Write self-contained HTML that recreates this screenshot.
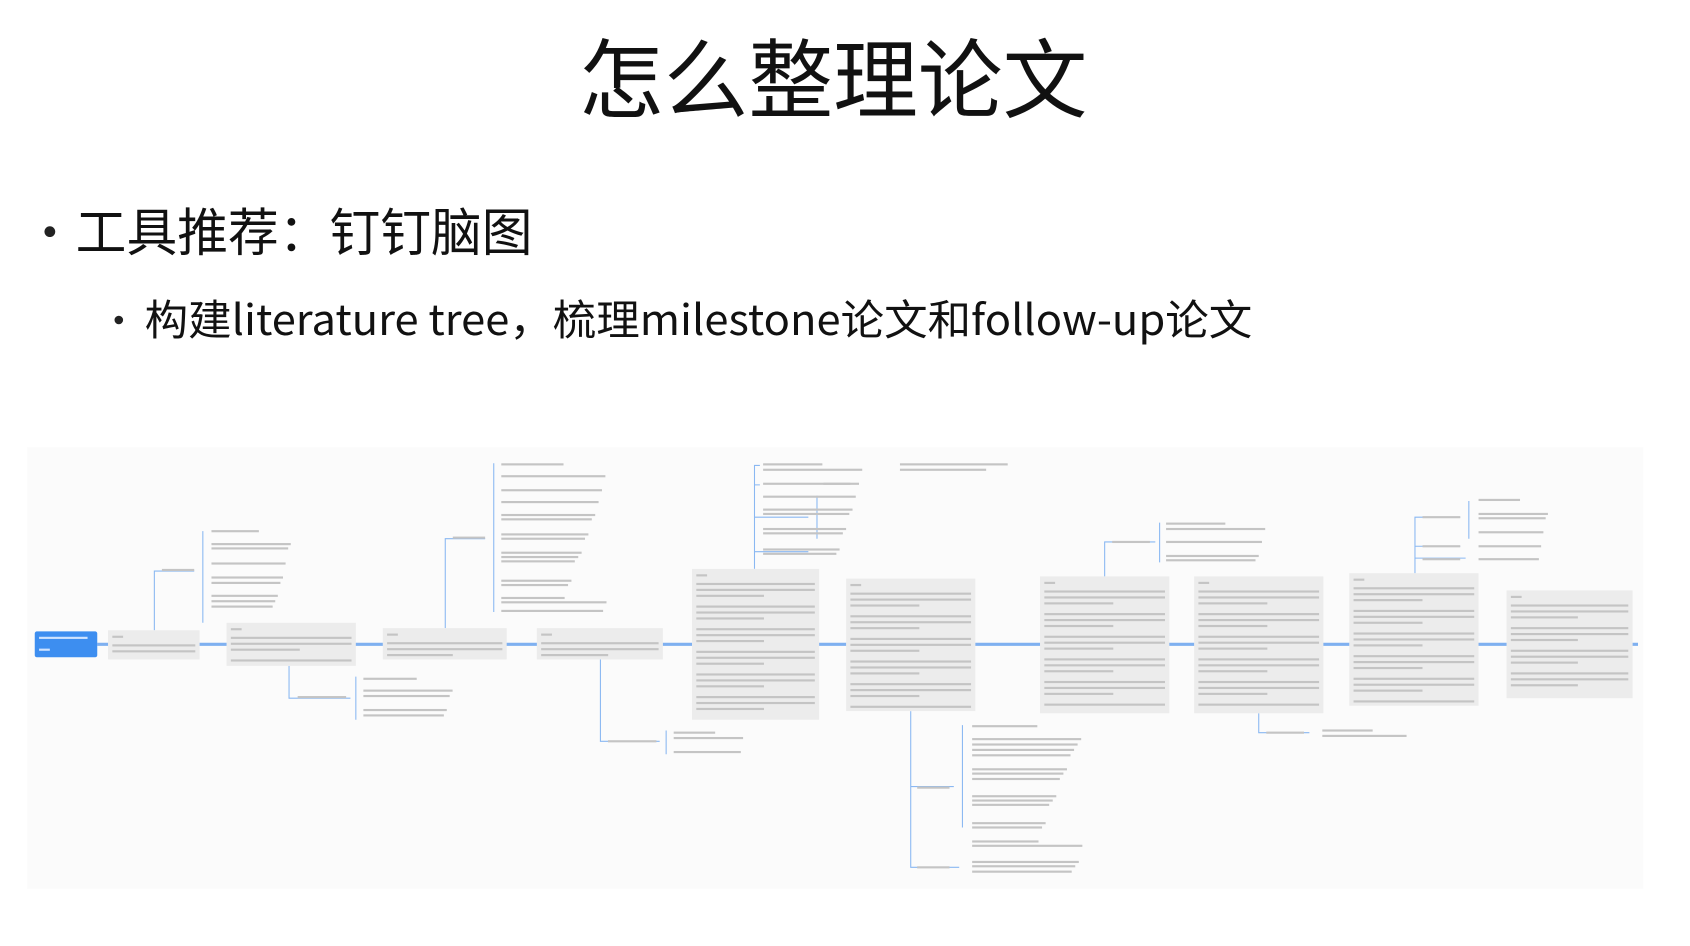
<!DOCTYPE html>
<html><head><meta charset="utf-8"><style>
html,body{margin:0;padding:0;background:#fff;width:1690px;height:946px;overflow:hidden}
svg{display:block}
</style></head><body>
<svg id="s" width="1690" height="946" viewBox="0 0 1568 878" xmlns="http://www.w3.org/2000/svg" font-family="'Liberation Sans','Noto Sans CJK SC',sans-serif">
<rect x="0" y="0" width="1568" height="878" fill="#fff"/>
<rect x="25" y="415" width="1500" height="410" fill="#fbfbfb"/>
<text x="773" y="103" text-anchor="middle" font-size="80" fill="#111" font-family="'Noto Sans CJK SC',sans-serif" textLength="472" lengthAdjust="spacingAndGlyphs">怎么整理论文</text>
<circle cx="46" cy="215" r="5" fill="#222"/>
<text x="70" y="233" font-size="48" fill="#111" font-family="'Noto Sans CJK SC',sans-serif" textLength="424" lengthAdjust="spacingAndGlyphs">工具推荐：钉钉脑图</text>
<circle cx="110" cy="297" r="4" fill="#222"/>
<text x="134" y="311" font-size="39" fill="#111" font-family="'Noto Sans CJK SC',sans-serif" textLength="1028" lengthAdjust="spacingAndGlyphs">构建literature tree，梳理milestone论文和follow-up论文</text>
<g fill="none" stroke="#8ab8f2" stroke-width="1">
<line x1="90" y1="598" x2="1520" y2="598" stroke-width="3" stroke="#7fb0f0"/>
<path d="M143 585V530H180M188 493V578"/>
<path d="M268 618V648H325M330 628V668"/>
<path d="M413 583V500H450M458 430V568"/>
<path d="M557 612V688H612M618 678V700"/>
<path d="M700 528V432H705M700 450H705M700 480H750M758 460V500M700 512H750"/>
<path d="M845 660V805H890M893 673V768M845 730H885"/>
<path d="M1025 535V503H1072M1076 485V522"/>
<path d="M1168 662V680H1215"/>
<path d="M1313 532V480H1355M1363 465V500M1313 507H1355M1313 518H1360"/>
</g>
<rect x="32" y="586" width="58" height="24" rx="2" fill="#3d8ef0"/>
<g fill="#ececec">
<rect x="100" y="585" width="85" height="27"/>
<rect x="210" y="578" width="120" height="40"/>
<rect x="355" y="583" width="115" height="29"/>
<rect x="498" y="583" width="117" height="29"/>
<rect x="642" y="528" width="118" height="140"/>
<rect x="785" y="537" width="120" height="123"/>
<rect x="965" y="535" width="120" height="127"/>
<rect x="1108" y="535" width="120" height="127"/>
<rect x="1252" y="532" width="120" height="123"/>
<rect x="1398" y="548" width="117" height="100"/>
</g>
<g id="t" fill="#c4c4c4"></g>
</svg>
<script>
var g=document.getElementById('t'),ns='http://www.w3.org/2000/svg';
function L(x,y,w,c){var r=document.createElementNS(ns,'rect');r.setAttribute('x',x);r.setAttribute('y',y);r.setAttribute('width',w);r.setAttribute('height',2);if(c)r.setAttribute('fill',c);g.appendChild(r);}
function box(x,y,w,h){L(x+4,y+5,10);var yy=y+13,k=0;while(yy<y+h-4){L(x+4,yy,w-8-(k%3==2?w*0.4:0));yy+=(k%3==2)?10:5.5;k++;}}
L(36,591,45,'#cfe3ff');L(36,602,10,'#cfe3ff');
box(100,585,85,27);box(210,578,120,40);box(355,583,115,29);box(498,583,117,29);box(642,528,118,140);box(785,537,120,123);box(965,535,120,127);box(1108,535,120,127);box(1252,532,120,123);box(1398,548,117,100);
function list(x,ys,w){ys.forEach(function(y,i){L(x,y,w*(0.55+((i*37)%40)/100));});}
list(196,[492,504,508,522,535,540,552,557,562],80);L(150,528,30);
list(337,[629,640,645,658,663],90);L(276,646,45);
list(465,[430,441,454,465,477,481,495,499,512,516,520,538,542,554,558,566],105);L(420,498,30);
list(625,[679,684,697],70);L(564,687,45);
list(708,[430,435,448,460,472,476,490,494,509,513],100);L(835,430,100);L(835,435,80);L(764,448,25);
list(902,[673,685,690,695,700,713,717,722,738,742,746,763,767,780,784,799,803,808],110);L(851,730,30);L(851,804,30);
list(1082,[485,490,502,515,519],100);L(1032,502,35);
list(1227,[677,682],85);L(1175,679,35);
list(1372,[463,476,480,493,506,518],70);L(1320,479,35);L(1320,506,35);L(1320,518,35);
</script>
</body></html>
